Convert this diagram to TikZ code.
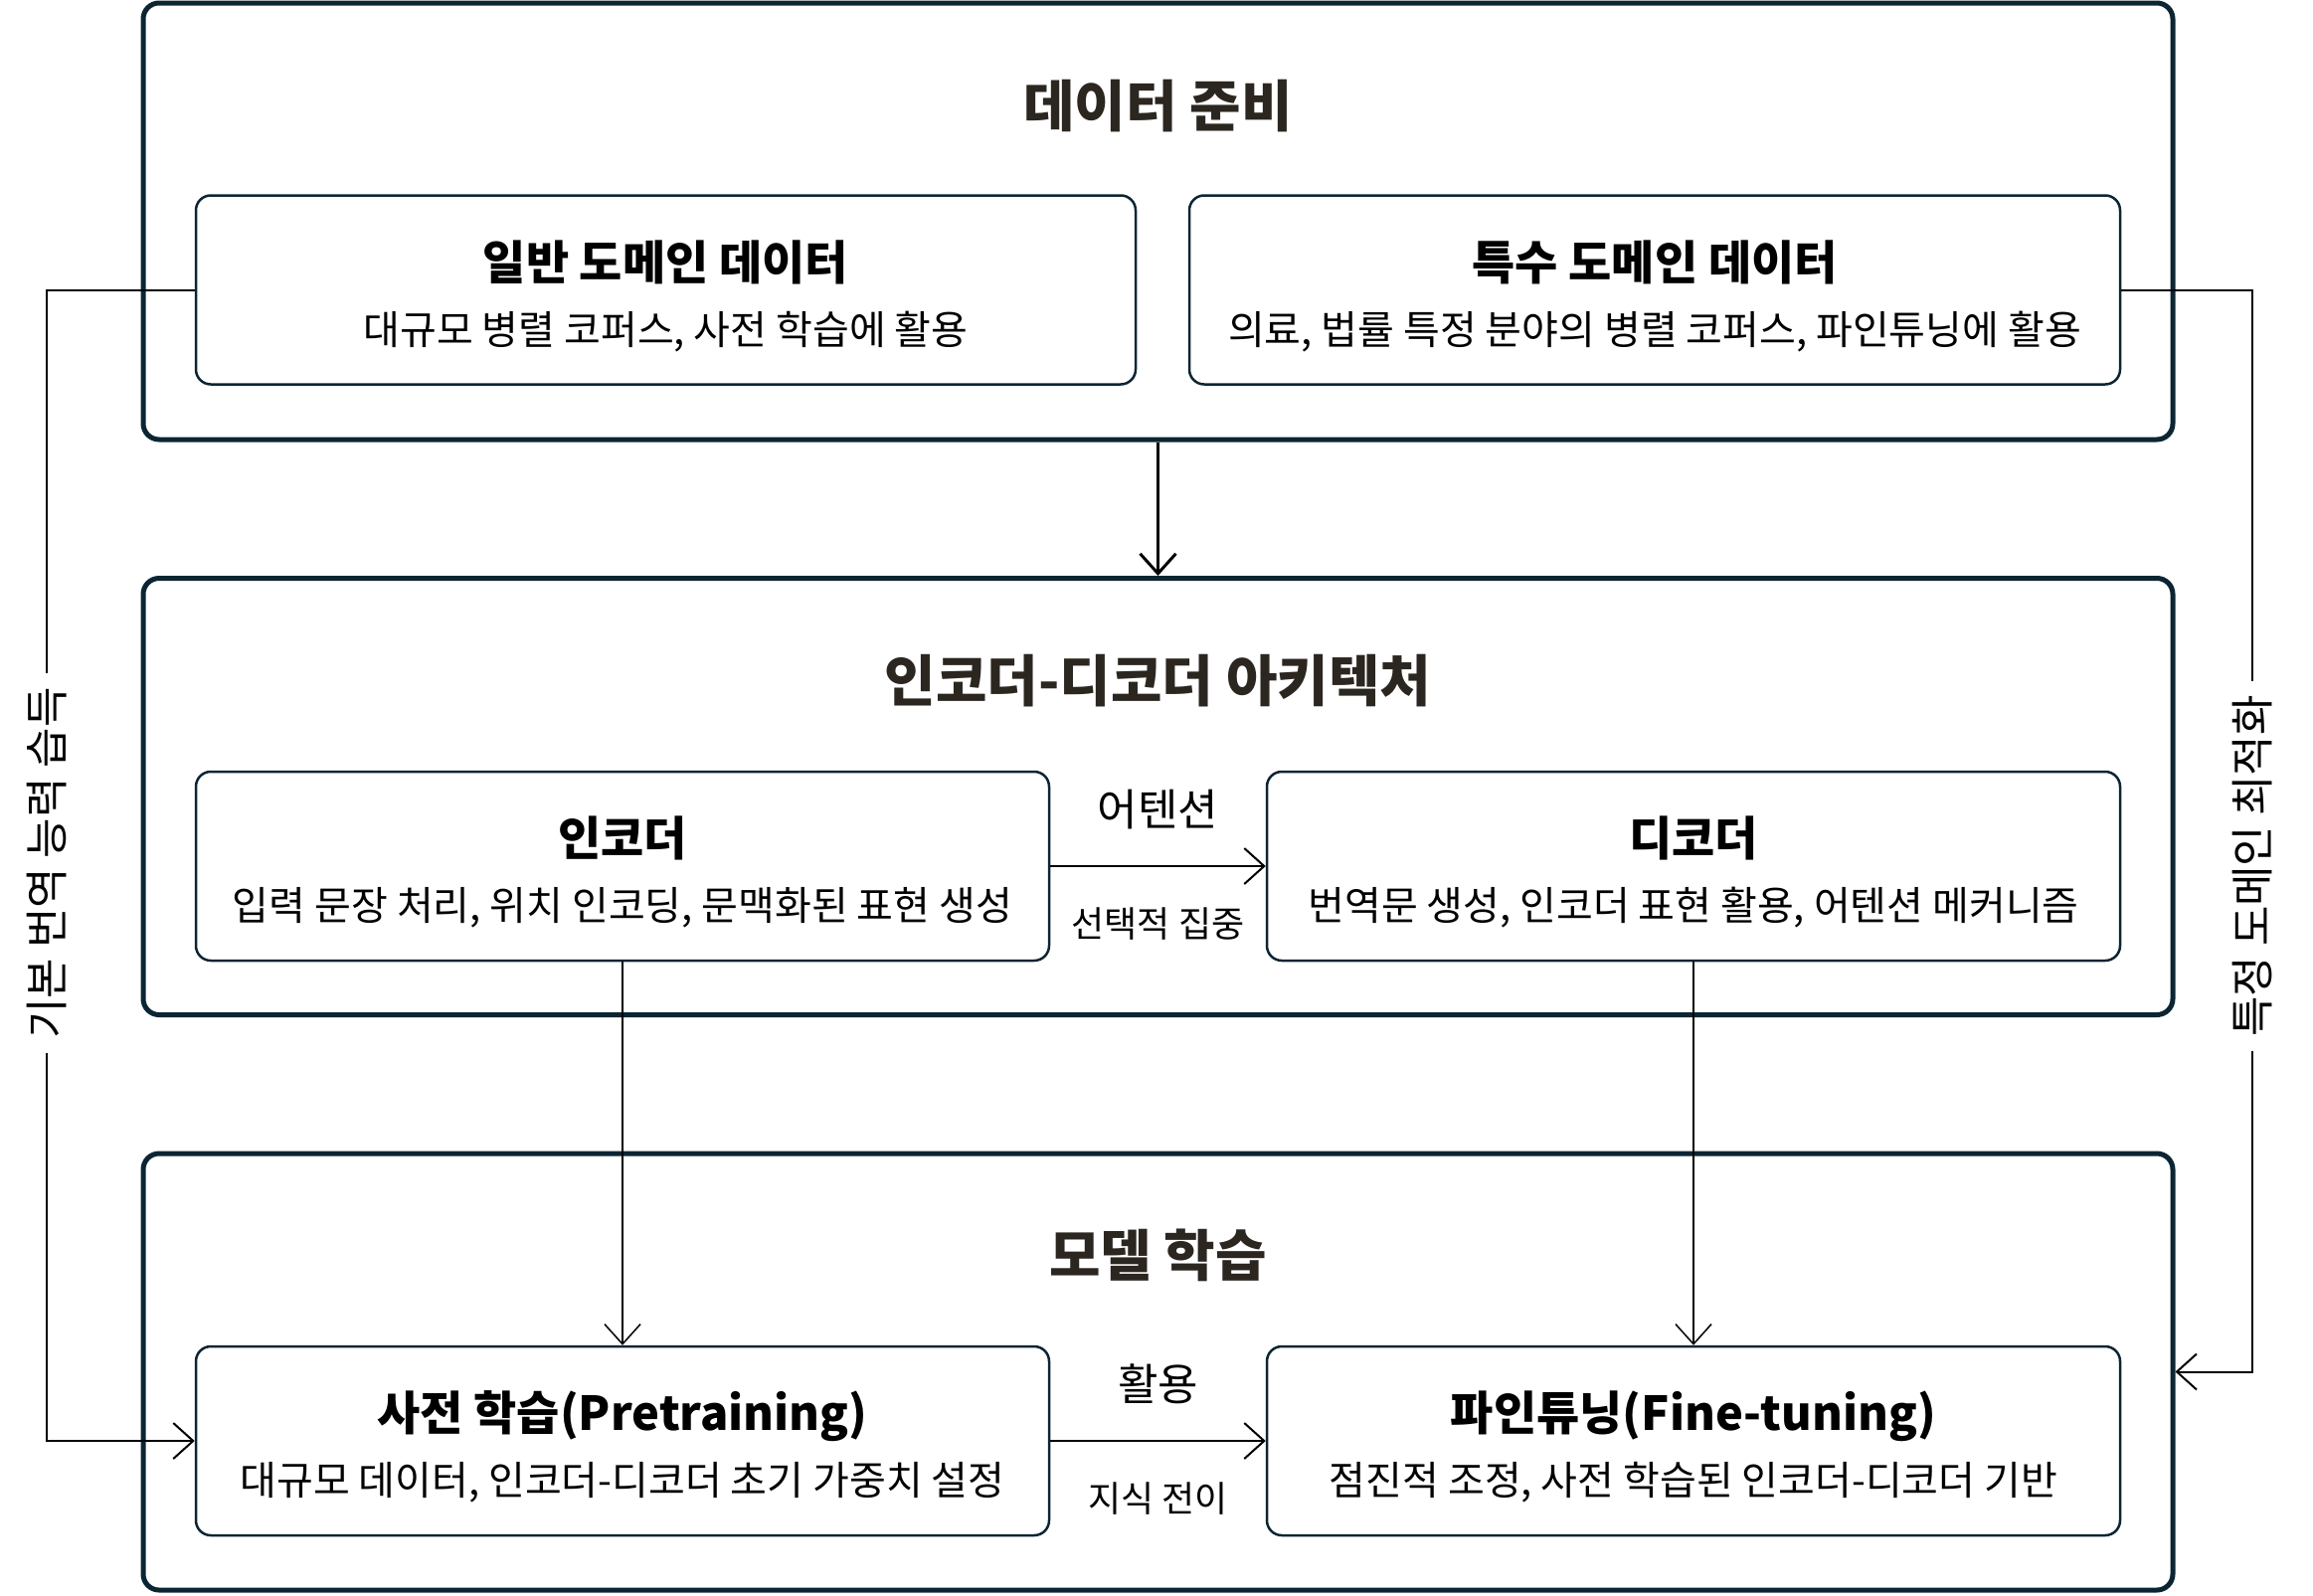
\documentclass[tikz,border=0pt]{standalone}
\usepackage{fontspec}
\setmainfont{Noto Sans CJK KR}
\usepackage{xcolor}
\usetikzlibrary{arrows.meta}
\definecolor{boxnavy}{HTML}{0C2533}
\definecolor{titlebrown}{HTML}{2B2620}
\newcommand{\boxtitle}{\fontsize{47}{65}\selectfont\bfseries\rule{0pt}{52pt}}

\begin{document}
\begin{tikzpicture}[x=1pt,y=-1pt,
  >={Straight Barb[length=20pt,width=36pt]},
  outerbox/.style={draw=boxnavy,line width=5pt,rounded corners=16pt,minimum width=2041pt,minimum height=439pt},
  innerbox/.style={draw=boxnavy,line width=2.5pt,rounded corners=15pt,minimum height=190pt,align=center,font=\fontsize{40}{65}\selectfont},
  maintitle/.style={text=titlebrown,font=\fontsize{56}{66}\selectfont\bfseries},
  link/.style={line width=2pt},
  toplbl/.style={font=\fontsize{44}{52}\selectfont},
  botlbl/.style={font=\fontsize{36}{44}\selectfont},
  sidelbl/.style={fill=white,rotate=90,inner sep=14pt,font=\fontsize{44}{52}\selectfont}]
\useasboundingbox (0,0) rectangle (2326,1604);

\node[outerbox] (datprep) at (1164.5,222.5) {};
\node[outerbox] (arch) at (1164.5,801) {};
\node[outerbox] (train) at (1164.5,1379.5) {};

\node[maintitle] (datprep-t) at (1164.5,107) {데이터 준비};
\node[maintitle] (arch-t) at (1164.5,685) {인코더-디코더 아키텍처};
\node[maintitle] (train-t) at (1164.5,1262) {모델 학습};

\node[innerbox,minimum width=945pt] (gendata) at (669.5,291.5)
{{\boxtitle 일반 도메인 데이터}\\대규모 병렬 코퍼스, 사전 학습에 활용};
\node[innerbox,minimum width=936pt] (specdata) at (1664,291.5)
{{\boxtitle 특수 도메인 데이터}\\의료, 법률 특정 분야의 병렬 코퍼스, 파인튜닝에 활용};

\node[innerbox,minimum width=858pt] (enc) at (626,871)
{{\boxtitle 인코더}\\입력 문장 처리, 위치 인코딩, 문맥화된 표현 생성};
\node[innerbox,minimum width=858pt] (dec) at (1703,871)
{{\boxtitle 디코더}\\번역문 생성, 인코더 표현 활용, 어텐션 메커니즘};

\node[innerbox,minimum width=858pt] (pretrain) at (626,1449)
{{\boxtitle 사전 학습(Pretraining)}\\대규모 데이터, 인코더-디코더 초기 가중치 설정};
\node[innerbox,minimum width=858pt] (finetune) at (1703,1449)
{{\boxtitle 파인튜닝(Fine-tuning)}\\점진적 조정, 사전 학습된 인코더-디코더 기반};

\draw[->,line width=3pt] (datprep.south) -- (arch.north);

\draw[->,link] (enc.east) -- node[toplbl,yshift=57pt] (attn-up) {어텐션}
node[botlbl,yshift=-58pt] (attn-dn) {선택적 집중} (dec.west);
\draw[->,link] (pretrain.east) -- node[toplbl,yshift=57pt] (use-up) {활용}
node[botlbl,yshift=-58pt] (use-dn) {지식 전이} (finetune.west);

\draw[->,line width=1.5pt] (enc.south) -- (pretrain.north);
\draw[->,line width=1.5pt] (dec.south) -- (finetune.north);

\coordinate (lcorner) at (47,291.5);
\coordinate (rcorner) at (2265,291.5);
\draw[->,link] (gendata.west) -- (lcorner) |- (pretrain.west);
\draw[->,link] (specdata.east) -- (rcorner) |- (train.east);

\node[sidelbl] (basic-l) at (47,868) {기본 번역 능력 습득};
\node[sidelbl] (spec-l) at (2265,871) {특정 도메인 최적화};

\end{tikzpicture}
\end{document}
